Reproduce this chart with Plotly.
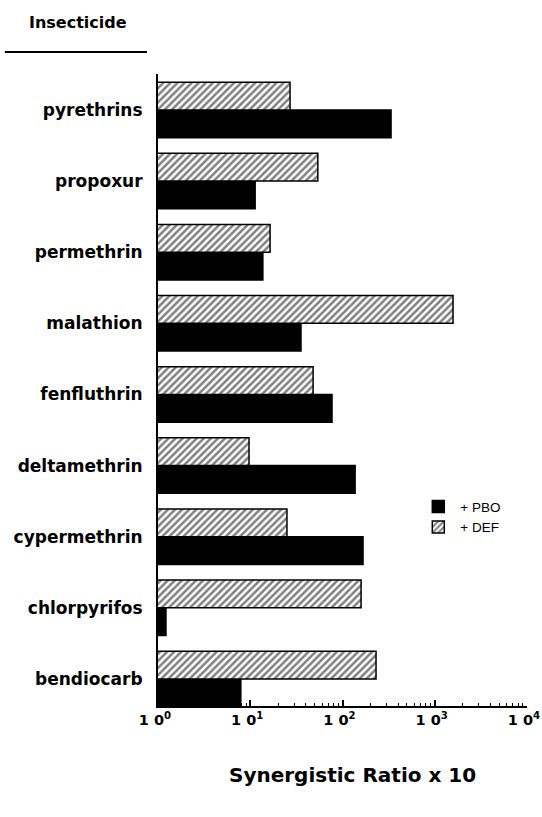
import plotly.graph_objects as go

categories = ["pyrethrins", "propoxur", "permethrin", "malathion", "fenfluthrin",
              "deltamethrin", "cypermethrin", "chlorpyrifos", "bendiocarb"]
pbo_values = [336, 11.3, 13.7, 35.5, 77, 137, 167, 1.22, 7.9]
def_values = [27, 54, 16.4, 1578, 48, 9.7, 25, 159, 231]
tick_vals = [1, 10, 100, 1000, 10000]
tick_text = ["1 0<sup>0</sup>", "1 0<sup>1</sup>", "1 0<sup>2</sup>", "1 0<sup>3</sup>", "1 0<sup>4</sup>"]
minor_vals = [m * 10 ** k for k in range(4) for m in range(2, 10)]

fig = go.Figure()
fig.add_trace(go.Bar(
    y=categories, x=pbo_values, orientation="h", name="+ PBO",
    marker=dict(color="black", line=dict(color="black", width=1.5)),
))
fig.add_trace(go.Bar(
    y=categories, x=def_values, orientation="h", name="+ DEF",
    marker=dict(color="white", line=dict(color="black", width=1.5),
                pattern=dict(shape="/", fgcolor="black", bgcolor="white",
                             size=5, solidity=0.5)),
))

fig.update_layout(
    width=542, height=817,
    margin=dict(l=158, r=15, t=74, b=111),
    paper_bgcolor="white", plot_bgcolor="white",
    barmode="group", bargap=0.22, bargroupgap=0,
    showlegend=True,
    legend=dict(x=0.70, y=0.34, xanchor="left", yanchor="top",
                font=dict(family="Liberation Sans", size=13.5, color="black"),
                bgcolor="rgba(0,0,0,0)", tracegroupgap=0, itemwidth=34),
    font=dict(family="DejaVu Sans", color="black"),
)
fig.update_xaxes(
    type="log", range=[0, 4], automargin=False, ticklabeloverflow="allow",
    ticklabelshift=-3,
    tickvals=tick_vals, ticktext=tick_text,
    ticks="inside", ticklen=6, tickwidth=1.5, tickcolor="black",
    minor=dict(tickvals=minor_vals, ticks="inside", ticklen=3, tickwidth=1, tickcolor="black", showgrid=False),
    showline=True, linecolor="black", linewidth=2,
    showgrid=False, zeroline=False,
    tickfont=dict(family="DejaVu Sans", size=14.5, color="black", weight="bold"),
)
fig.update_yaxes(
    categoryorder="array", categoryarray=list(reversed(categories)),
    range=[-0.38, 8.506], automargin=False,
    showline=True, linecolor="black", linewidth=2,
    ticks="", showgrid=False, zeroline=False,
    ticklabelstandoff=10,
    tickfont=dict(family="DejaVu Sans", size=17, color="black", weight="bold"),
)

fig.add_annotation(text="Insecticide", xref="paper", yref="paper",
                   x=-0.218, y=1.082, xanchor="center", yanchor="middle",
                   showarrow=False,
                   font=dict(family="DejaVu Sans", size=16, color="black", weight="bold"))
fig.add_shape(type="line", xref="paper", yref="paper",
              x0=-0.415, x1=-0.030, y0=1.035, y1=1.035,
              line=dict(color="black", width=2))
fig.add_annotation(text="Synergistic Ratio x 10", xref="paper", yref="paper",
                   x=0.526, y=-0.109, xanchor="center", yanchor="middle",
                   showarrow=False,
                   font=dict(family="DejaVu Sans", size=20, color="black", weight="bold"))

fig.write_html("out.html", config={"displayModeBar": False},
               post_script="document.body.style.margin='0';document.body.style.overflow='hidden';")
